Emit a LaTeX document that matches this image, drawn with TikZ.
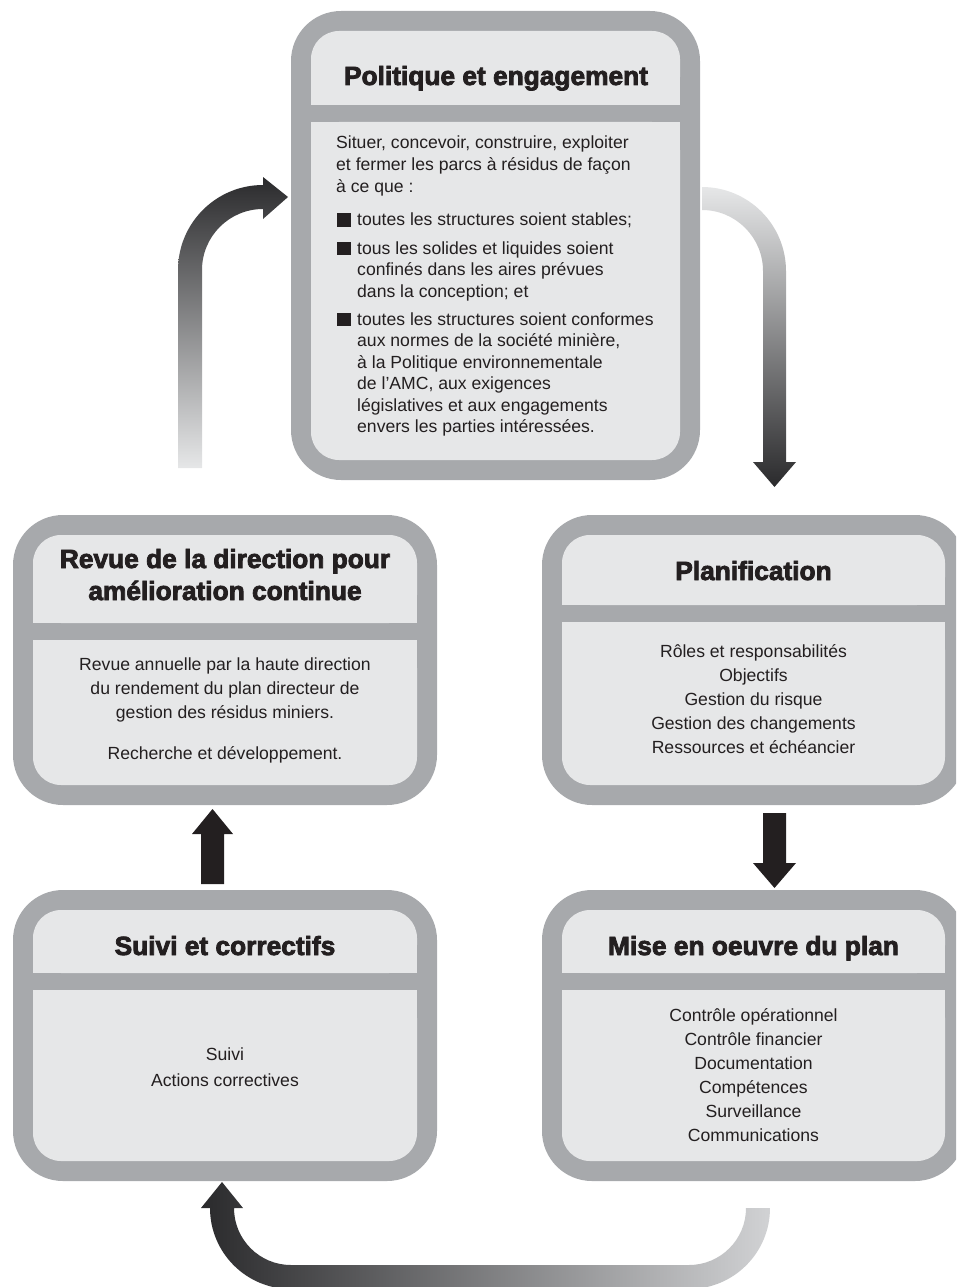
\documentclass[tikz,border=0pt]{standalone}
\usepackage{fontspec}
\setmainfont{Liberation Sans}
\newfontfamily\ttlfont[BoldFeatures={FakeBold=3}]{Liberation Sans}
\definecolor{framegray}{HTML}{A7A9AC}
\definecolor{panelgray}{HTML}{E6E7E8}
\definecolor{ink}{HTML}{231F20}
\definecolor{adark}{HTML}{2A2A2C}
\definecolor{alight}{HTML}{E6E7E8}
\definecolor{blight}{HTML}{D1D2D4}
\tikzset{
  outerbox/.style={fill=framegray, rounded corners=50pt},
  panelbox/.style={fill=panelgray, rounded corners=28pt},
  panelsq/.style={fill=panelgray},
  ttl/.style={font=\ttlfont\bfseries\fontsize{26.3}{32}\selectfont, text=ink, inner sep=0pt, anchor=base},
  bodyc/.style={font=\fontsize{17.6}{21.7}\selectfont, text=ink, inner sep=0pt, anchor=base},
  bodyl/.style={bodyc, anchor=base west},
  bul/.style={fill=ink},
  blockarrow/.style={fill=ink},
}
\newcommand\drawcard[6]{%
  \fill[outerbox] (#1,#2) rectangle (#3,#4);
  \fill[panelbox] ({#1+20},{#2+20}) rectangle ({#3-20},#5);
  \fill[panelsq] ({#1+20},{#5-35}) rectangle ({#3-20},#5);
  \fill[panelbox] ({#1+20},#6) rectangle ({#3-20},{#4-20});
  \fill[panelsq] ({#1+20},#6) rectangle ({#3-20},{#6+35});
}
\newcommand\bulsq[1]{\fill[bul] (337,{#1-12.5}) rectangle (351,{#1+0.8});}
\begin{document}
\begin{tikzpicture}[x=1pt,y=-1pt]
\useasboundingbox (0,0) rectangle (956,1287);
\clip (0,0) rectangle (956,1287);

% cards
\drawcard{291}{11}{700}{480}{105}{122}
\drawcard{13}{515}{437}{805}{623}{640}
\drawcard{542}{515}{965}{805}{605}{622}
\drawcard{13}{890}{437}{1181}{973}{990}
\drawcard{542}{890}{965}{1181}{973}{990}

% top card
\node[ttl] (pol) at (496,85) {Politique et engagement};
\node[bodyl] (p1) at (336,149) {Situer, concevoir, construire, exploiter};
\node[bodyl] (p2) at (336,170.5) {et fermer les parcs à résidus de façon};
\node[bodyl] (p3) at (336,192) {à ce que :};
\bulsq{225.7}
\node[bodyl] (b1) at (357,225.7) {toutes les structures soient stables;};
\bulsq{254}
\node[bodyl] (b2a) at (357,254) {tous les solides et liquides soient};
\node[bodyl] (b2b) at (357,275.5) {confinés dans les aires prévues};
\node[bodyl] (b2c) at (357,297) {dans la conception; et};
\bulsq{325}
\node[bodyl] (b3a) at (357,325) {toutes les structures soient conformes};
\node[bodyl] (b3b) at (357,346.5) {aux normes de la société minière,};
\node[bodyl] (b3c) at (357,368) {à la Politique environnementale};
\node[bodyl] (b3d) at (357,389.5) {de l’AMC, aux exigences};
\node[bodyl] (b3e) at (357,411) {législatives et aux engagements};
\node[bodyl] (b3f) at (357,432.5) {envers les parties intéressées.};

% revue
\node[ttl] (rev1) at (225,568) {Revue de la direction pour};
\node[ttl] (rev2) at (225,600) {amélioration continue};
\node[bodyc] (r1) at (225,670) {Revue annuelle par la haute direction};
\node[bodyc] (r2) at (225,694) {du rendement du plan directeur de};
\node[bodyc] (r3) at (225,718) {gestion des résidus miniers.};
\node[bodyc] (r4) at (225,759) {Recherche et développement.};

% planification
\node[ttl] (pla) at (753.5,580) {Planification};
\node[bodyc] (q1) at (753.5,657) {Rôles et responsabilités};
\node[bodyc] (q2) at (753.5,681) {Objectifs};
\node[bodyc] (q3) at (753.5,705) {Gestion du risque};
\node[bodyc] (q4) at (753.5,729) {Gestion des changements};
\node[bodyc] (q5) at (753.5,753) {Ressources et échéancier};

% suivi
\node[ttl] (sui) at (225,955) {Suivi et correctifs};
\node[bodyc] (s1) at (225,1060) {Suivi};
\node[bodyc] (s2) at (225,1086) {Actions correctives};

% mise en oeuvre
\node[ttl] (mis) at (753.5,955) {Mise en oeuvre du plan};
\node[bodyc] (m1) at (753.5,1021) {Contrôle opérationnel};
\node[bodyc] (m2) at (753.5,1045) {Contrôle financier};
\node[bodyc] (m3) at (753.5,1069) {Documentation};
\node[bodyc] (m4) at (753.5,1093) {Compétences};
\node[bodyc] (m5) at (753.5,1117) {Surveillance};
\node[bodyc] (m6) at (753.5,1141) {Communications};

% straight block arrows
\fill[blockarrow] (201,884) -- (201,834) -- (192,834) -- (212.5,809) -- (233,834) -- (224,834) -- (224,884) -- cycle;
\fill[blockarrow] (763,813) -- (786,813) -- (786,863) -- (796,863) -- (774.5,888) -- (753,863) -- (763,863) -- cycle;

% gradient curved arrows
\shade[top color=adark, bottom color=alight] (178,468) -- (178,270) arc[start angle=180,end angle=270,radius=85] -- (263,177) -- (288,197) -- (263,219) -- (263,209) arc[start angle=270,end angle=180,radius=61] -- (202,468) -- cycle;
\shade[top color=alight, bottom color=adark] (702,187) arc[start angle=270,end angle=360,radius=84] -- (786,462) -- (796,462) -- (774.5,487) -- (753,462) -- (763,462) -- (763,271) arc[start angle=0,end angle=-90,radius=61] -- cycle;
\shade[left color=adark, right color=blight] (746,1208) -- (770,1208) arc[start angle=0,end angle=90,radius=81] -- (291,1289) arc[start angle=90,end angle=180,radius=81] -- (201,1208) -- (222,1182) -- (243,1208) -- (234,1208) arc[start angle=180,end angle=90,radius=57] -- (689,1265) arc[start angle=90,end angle=0,radius=57] -- cycle;
\end{tikzpicture}
\end{document}
